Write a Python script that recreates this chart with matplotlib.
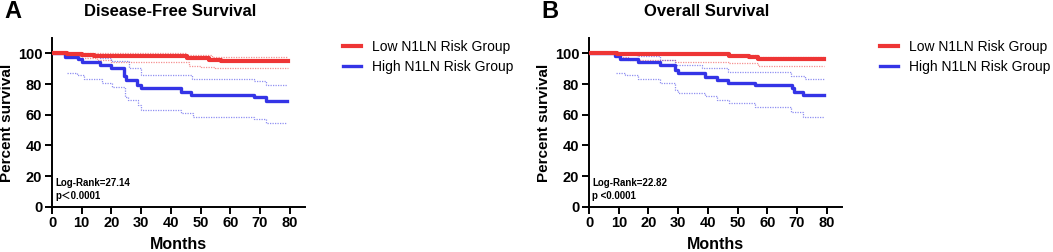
import numpy as np
import matplotlib.pyplot as plt

plt.rcParams['font.family'] = ['Liberation Sans', 'Noto Sans CJK SC', 'DejaVu Sans']

RED = '#ee3535'
BLUE = '#3434e6'
groups = ['Low N1LN Risk Group', 'High N1LN Risk Group']

# Disease-free survival, step curves (time in months, percent survival)
dfs_low_t = [0, 5, 10, 14, 45.5, 53, 57, 79.5]
dfs_low_s = [100, 99.5, 99, 98.5, 97, 96, 95.2, 95.2]
dfs_low_up_t = [0, 45, 54, 79.5]
dfs_low_up_s = [100, 99, 97.9, 97.9]
dfs_low_lo_t = [0, 5, 10, 15, 20, 46, 50, 55, 79.5]
dfs_low_lo_s = [100, 98, 97, 96, 94.6, 92, 91, 90.3, 90.3]

dfs_high_t = [0, 4.5, 8.8, 10.1, 16.3, 19.7, 24.2, 25, 28.7, 29.8, 43.3, 46.7, 68, 72, 79]
dfs_high_s = [100, 97.9, 96.5, 94.7, 92.2, 90.3, 85.3, 82.6, 79.4, 77.2, 75, 72.9, 71.4, 69.1, 69.1]
dfs_high_up_t = [5, 10, 16, 20, 26, 30, 47, 68, 72, 79]
dfs_high_up_s = [100, 98.5, 97, 95, 90.3, 86, 83.3, 82, 79.4, 79.4]
dfs_high_lo_t = [5, 8.4, 10.7, 16.9, 20.3, 24.5, 25.5, 29, 30, 43.5, 47.3, 68, 72, 79]
dfs_high_lo_s = [87.4, 86, 83.1, 80.5, 78.3, 71.8, 69.6, 66.3, 63, 61, 58.7, 57, 54.4, 54.4]

# Overall survival
os_low_t = [0, 9.3, 47, 54, 57, 79]
os_low_s = [100, 99.4, 98.3, 97.5, 96.1, 96.1]
os_low_up_t = [0, 47, 57, 79]
os_low_up_s = [100, 98.7, 97.9, 97.9]
os_low_lo_t = [0, 9.3, 13, 29, 47, 57, 79]
os_low_lo_s = [100, 97.5, 96, 94.6, 93.5, 91.5, 91.5]

os_high_t = [0, 8.7, 10.4, 16.6, 23.9, 29, 30, 39, 43, 46.9, 55.9, 68.2, 69, 72.1, 79]
os_high_s = [100, 98.3, 96.1, 94.2, 92.2, 89.2, 87, 84.8, 82.6, 80.9, 79.2, 77.2, 75, 72.9, 72.9]
os_high_up_t = [9, 16, 24, 29, 38, 46.8, 68, 72.7, 79]
os_high_up_s = [100, 98.5, 95.7, 92.4, 90.3, 88, 85, 83.3, 83.3]
os_high_lo_t = [9, 12, 16.6, 24, 29, 30, 39, 43, 47, 56, 68, 72, 79]
os_high_lo_s = [87.4, 85.9, 83.1, 80.9, 76, 74.4, 72.2, 69.6, 67.4, 64.8, 62, 58.3, 58.3]

panels = [
    dict(letter='A', title='Disease-Free Survival', left=0.0494, stat='Log-Rank=27.14\np\uff1c0.0001',
         low=(dfs_low_t, dfs_low_s), low_up=(dfs_low_up_t, dfs_low_up_s), low_lo=(dfs_low_lo_t, dfs_low_lo_s),
         high=(dfs_high_t, dfs_high_s), high_up=(dfs_high_up_t, dfs_high_up_s), high_lo=(dfs_high_lo_t, dfs_high_lo_s),
         leg_x=343),
    dict(letter='B', title='Overall Survival', left=0.5594, stat='Log-Rank=22.82\np <0.0001',
         low=(os_low_t, os_low_s), low_up=(os_low_up_t, os_low_up_s), low_lo=(os_low_lo_t, os_low_lo_s),
         high=(os_high_t, os_high_s), high_up=(os_high_up_t, os_high_up_s), high_lo=(os_high_lo_t, os_high_lo_s),
         leg_x=880),
]

fig = plt.figure(figsize=(10.53, 2.52), dpi=100)

for p in panels:
    ax = fig.add_axes([p['left'], 0.1798, 0.2398, 0.669])
    # confidence bands as thin dotted steps
    for key, col in (('low', RED), ('high', BLUE)):
        for ci in ('_up', '_lo'):
            t, s = p[key + ci]
            ax.step(t, s, where='post', color=col, lw=0.9, ls=(0, (1, 1)), alpha=0.55, zorder=2)
    h1, = ax.step(*p['low'], where='post', color=RED, lw=3.0, zorder=4, label=groups[0])
    h2, = ax.step(*p['high'], where='post', color=BLUE, lw=2.4, zorder=3, label=groups[1])

    ax.set_xlim(0, 85)
    ax.set_ylim(0, 110)
    ax.set_xticks(np.arange(0, 81, 10))
    ax.set_yticks(np.arange(0, 101, 20))
    for side in ('top', 'right'):
        ax.spines[side].set_visible(False)
    for side in ('left', 'bottom'):
        ax.spines[side].set_linewidth(1.4)
    ax.tick_params(direction='out', length=5, width=1.4, labelsize=10.5, pad=2)
    for lab in ax.get_xticklabels() + ax.get_yticklabels():
        lab.set_fontweight('bold')
    ax.set_xlabel('Months', fontsize=11.5, fontweight='bold', labelpad=5)
    ax.set_ylabel('Percent survival', fontsize=11, fontweight='bold', labelpad=3)
    ax.text(1, 4, p['stat'], fontsize=7, fontweight='bold', va='bottom', ha='left', linespacing=1.35)

    fig.text((p['left'] * 1053 + 118) / 1053, 1 - 11 / 252, p['title'], fontsize=12, fontweight='bold',
             ha='center', va='center')
    fig.text((p['left'] * 1053 - 48) / 1053, 1 - 11 / 252, p['letter'], fontsize=17, fontweight='bold',
             ha='left', va='center')

    ax.legend(handles=[h1, h2], loc='upper left', bbox_to_anchor=(p['leg_x'] / 1053, 1 - 40 / 252),
              bbox_transform=fig.transFigure, frameon=False, fontsize=10, handlelength=1.3,
              handletextpad=0.8, labelspacing=0.45, borderpad=0, borderaxespad=0)

fig.savefig('out.png', dpi=100)
